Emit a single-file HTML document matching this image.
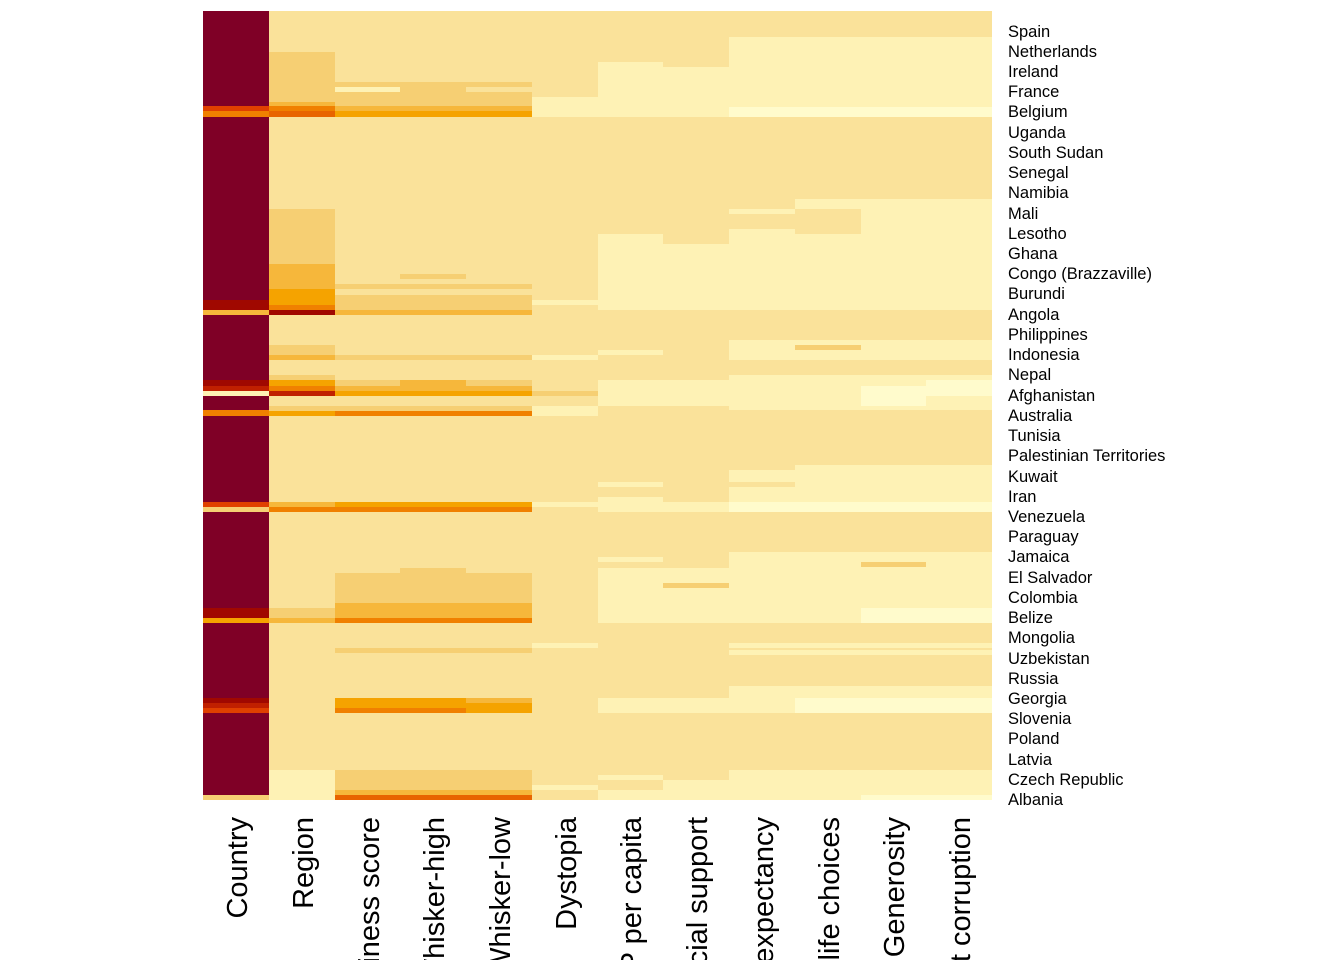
<!DOCTYPE html>
<html><head><meta charset="utf-8"><style>
html,body{margin:0;padding:0;background:#fff;overflow:hidden;width:1344px;height:960px;}
svg{display:block;font-family:"Liberation Sans",sans-serif;overflow:hidden;}
</style></head><body>
<svg width="1344" height="960" viewBox="0 0 1344 960" xmlns="http://www.w3.org/2000/svg">
<g shape-rendering="crispEdges">
<rect x="269" y="11" width="723" height="789" fill="#FAE29A"/>
<rect x="203" y="11" width="66" height="789" fill="#7F0026"/>
<rect x="203" y="106" width="66" height="5" fill="#E04000"/>
<rect x="203" y="111" width="66" height="6" fill="#F08000"/>
<rect x="203" y="300" width="66" height="10" fill="#A00800"/>
<rect x="203" y="310" width="66" height="5" fill="#F6B73B"/>
<rect x="203" y="380" width="66" height="6" fill="#A00800"/>
<rect x="203" y="386" width="66" height="5" fill="#C02000"/>
<rect x="203" y="391" width="66" height="5" fill="#FEF2B5"/>
<rect x="203" y="410" width="66" height="6" fill="#F08000"/>
<rect x="203" y="502" width="66" height="5" fill="#E04000"/>
<rect x="203" y="507" width="66" height="5" fill="#F6CF73"/>
<rect x="203" y="608" width="66" height="10" fill="#A00800"/>
<rect x="203" y="618" width="66" height="5" fill="#F5A300"/>
<rect x="203" y="698" width="66" height="5" fill="#A00800"/>
<rect x="203" y="703" width="66" height="5" fill="#C02000"/>
<rect x="203" y="708" width="66" height="5" fill="#E04000"/>
<rect x="203" y="795" width="66" height="5" fill="#F6CF73"/>

<rect x="269" y="52" width="66" height="50" fill="#F6CF73"/>
<rect x="269" y="102" width="66" height="4" fill="#F6B73B"/>
<rect x="269" y="106" width="66" height="5" fill="#F08000"/>
<rect x="269" y="111" width="66" height="6" fill="#E86400"/>
<rect x="269" y="209" width="66" height="55" fill="#F6CF73"/>
<rect x="269" y="264" width="66" height="25" fill="#F6B73B"/>
<rect x="269" y="289" width="66" height="16" fill="#F5A300"/>
<rect x="269" y="305" width="66" height="5" fill="#F08000"/>
<rect x="269" y="310" width="66" height="5" fill="#A00800"/>
<rect x="269" y="345" width="66" height="10" fill="#F6CF73"/>
<rect x="269" y="355" width="66" height="5" fill="#F6B73B"/>
<rect x="269" y="375" width="66" height="5" fill="#F6CF73"/>
<rect x="269" y="380" width="66" height="6" fill="#F5A300"/>
<rect x="269" y="386" width="66" height="5" fill="#F08000"/>
<rect x="269" y="391" width="66" height="5" fill="#C02000"/>
<rect x="269" y="406" width="66" height="5" fill="#F6CF73"/>
<rect x="269" y="411" width="66" height="5" fill="#F5A300"/>
<rect x="269" y="502" width="66" height="5" fill="#F6B73B"/>
<rect x="269" y="507" width="66" height="5" fill="#F08000"/>
<rect x="269" y="608" width="66" height="10" fill="#F6CF73"/>
<rect x="269" y="618" width="66" height="5" fill="#F6B73B"/>
<rect x="269" y="770" width="66" height="30" fill="#FEF2B5"/>

<rect x="335" y="82" width="197" height="5" fill="#F6CF73"/>
<rect x="335" y="92" width="197" height="14" fill="#F6CF73"/>
<rect x="400" y="87" width="66" height="5" fill="#F6CF73"/>
<rect x="335" y="87" width="65" height="5" fill="#FEF2B5"/>
<rect x="335" y="106" width="197" height="5" fill="#F6B73B"/>
<rect x="335" y="111" width="197" height="6" fill="#F5A300"/>
<rect x="400" y="274" width="66" height="5" fill="#F6CF73"/>
<rect x="335" y="284" width="197" height="5" fill="#F6CF73"/>
<rect x="335" y="295" width="197" height="15" fill="#F6CF73"/>
<rect x="335" y="310" width="197" height="5" fill="#F6B73B"/>
<rect x="335" y="355" width="197" height="5" fill="#F6CF73"/>
<rect x="335" y="380" width="197" height="6" fill="#F6CF73"/>
<rect x="400" y="380" width="66" height="6" fill="#F6B73B"/>
<rect x="335" y="386" width="197" height="5" fill="#F6B73B"/>
<rect x="335" y="391" width="197" height="5" fill="#F5A300"/>
<rect x="335" y="406" width="197" height="5" fill="#F6CF73"/>
<rect x="335" y="411" width="197" height="5" fill="#F08000"/>
<rect x="335" y="502" width="197" height="5" fill="#F5A300"/>
<rect x="335" y="507" width="197" height="5" fill="#F08000"/>
<rect x="400" y="568" width="66" height="5" fill="#F6CF73"/>
<rect x="335" y="573" width="197" height="30" fill="#F6CF73"/>
<rect x="335" y="603" width="197" height="15" fill="#F6B73B"/>
<rect x="335" y="618" width="197" height="5" fill="#F08000"/>
<rect x="335" y="648" width="197" height="5" fill="#F6CF73"/>
<rect x="335" y="698" width="131" height="10" fill="#F5A300"/>
<rect x="466" y="698" width="66" height="5" fill="#F6B73B"/>
<rect x="466" y="703" width="66" height="10" fill="#F5A300"/>
<rect x="335" y="708" width="131" height="5" fill="#F08000"/>
<rect x="335" y="770" width="197" height="20" fill="#F6CF73"/>
<rect x="335" y="790" width="197" height="5" fill="#F6B73B"/>
<rect x="335" y="795" width="197" height="5" fill="#E86400"/>

<rect x="532" y="97" width="66" height="20" fill="#FEF2B5"/>
<rect x="532" y="300" width="66" height="5" fill="#FEF2B5"/>
<rect x="532" y="355" width="66" height="5" fill="#FEF2B5"/>
<rect x="532" y="391" width="66" height="5" fill="#F6CF73"/>
<rect x="532" y="406" width="66" height="10" fill="#FEF2B5"/>
<rect x="532" y="502" width="66" height="5" fill="#FEF2B5"/>
<rect x="532" y="643" width="66" height="5" fill="#FEF2B5"/>
<rect x="532" y="785" width="66" height="5" fill="#FEF2B5"/>

<rect x="598" y="62" width="65" height="55" fill="#FEF2B5"/>
<rect x="598" y="234" width="65" height="76" fill="#FEF2B5"/>
<rect x="598" y="350" width="65" height="5" fill="#FEF2B5"/>
<rect x="598" y="380" width="65" height="26" fill="#FEF2B5"/>
<rect x="598" y="482" width="65" height="5" fill="#FEF2B5"/>
<rect x="598" y="497" width="65" height="15" fill="#FEF2B5"/>
<rect x="598" y="557" width="65" height="5" fill="#FEF2B5"/>
<rect x="598" y="568" width="65" height="55" fill="#FEF2B5"/>
<rect x="598" y="698" width="65" height="15" fill="#FEF2B5"/>
<rect x="598" y="775" width="65" height="5" fill="#FEF2B5"/>
<rect x="598" y="790" width="65" height="10" fill="#FEF2B5"/>

<rect x="663" y="67" width="66" height="50" fill="#FEF2B5"/>
<rect x="663" y="244" width="66" height="66" fill="#FEF2B5"/>
<rect x="663" y="380" width="66" height="26" fill="#FEF2B5"/>
<rect x="663" y="502" width="66" height="10" fill="#FEF2B5"/>
<rect x="663" y="568" width="66" height="55" fill="#FEF2B5"/>
<rect x="663" y="583" width="66" height="5" fill="#F6CF73"/>
<rect x="663" y="698" width="66" height="15" fill="#FEF2B5"/>
<rect x="663" y="780" width="66" height="20" fill="#FEF2B5"/>

<rect x="729" y="37" width="263" height="70" fill="#FEF2B5"/>
<rect x="729" y="107" width="263" height="10" fill="#FFFBCC"/>
<rect x="729" y="209" width="66" height="5" fill="#FEF2B5"/>
<rect x="729" y="229" width="66" height="81" fill="#FEF2B5"/>
<rect x="795" y="199" width="197" height="111" fill="#FEF2B5"/>
<rect x="795" y="209" width="66" height="25" fill="#FAE29A"/>
<rect x="729" y="340" width="263" height="20" fill="#FEF2B5"/>
<rect x="795" y="345" width="66" height="5" fill="#F6CF73"/>
<rect x="729" y="375" width="263" height="35" fill="#FEF2B5"/>
<rect x="861" y="386" width="65" height="20" fill="#FFFBCC"/>
<rect x="926" y="380" width="66" height="16" fill="#FFFBCC"/>
<rect x="795" y="465" width="197" height="47" fill="#FEF2B5"/>
<rect x="729" y="470" width="66" height="42" fill="#FEF2B5"/>
<rect x="729" y="482" width="66" height="5" fill="#FAE29A"/>
<rect x="729" y="502" width="263" height="10" fill="#FFFBCC"/>
<rect x="729" y="552" width="263" height="71" fill="#FEF2B5"/>
<rect x="861" y="562" width="65" height="5" fill="#F6CF73"/>
<rect x="861" y="608" width="131" height="15" fill="#FFFBCC"/>
<rect x="729" y="643" width="263" height="5" fill="#FEF2B5"/>
<rect x="729" y="650" width="263" height="5" fill="#FEF2B5"/>
<rect x="729" y="686" width="263" height="27" fill="#FEF2B5"/>
<rect x="795" y="698" width="197" height="15" fill="#FFFBCC"/>
<rect x="729" y="770" width="263" height="30" fill="#FEF2B5"/>
<rect x="861" y="795" width="131" height="5" fill="#FFFBCC"/>
</g>
<g font-size="16.5" fill="#000">
<text x="1008" y="37">Spain</text><text x="1008" y="57">Netherlands</text><text x="1008" y="77">Ireland</text><text x="1008" y="97">France</text><text x="1008" y="117">Belgium</text><text x="1008" y="138">Uganda</text><text x="1008" y="158">South Sudan</text><text x="1008" y="178">Senegal</text><text x="1008" y="198">Namibia</text><text x="1008" y="219">Mali</text><text x="1008" y="239">Lesotho</text><text x="1008" y="259">Ghana</text><text x="1008" y="279">Congo (Brazzaville)</text><text x="1008" y="299">Burundi</text><text x="1008" y="320">Angola</text><text x="1008" y="340">Philippines</text><text x="1008" y="360">Indonesia</text><text x="1008" y="380">Nepal</text><text x="1008" y="401">Afghanistan</text><text x="1008" y="421">Australia</text><text x="1008" y="441">Tunisia</text><text x="1008" y="461">Palestinian Territories</text><text x="1008" y="482">Kuwait</text><text x="1008" y="502">Iran</text><text x="1008" y="522">Venezuela</text><text x="1008" y="542">Paraguay</text><text x="1008" y="562">Jamaica</text><text x="1008" y="583">El Salvador</text><text x="1008" y="603">Colombia</text><text x="1008" y="623">Belize</text><text x="1008" y="643">Mongolia</text><text x="1008" y="664">Uzbekistan</text><text x="1008" y="684">Russia</text><text x="1008" y="704">Georgia</text><text x="1008" y="724">Slovenia</text><text x="1008" y="744">Poland</text><text x="1008" y="765">Latvia</text><text x="1008" y="785">Czech Republic</text><text x="1008" y="805">Albania</text>
</g>
<g font-size="29" fill="#000" text-anchor="end">
<text transform="translate(247,817) rotate(-90)">Country</text>
<text transform="translate(313,817) rotate(-90)">Region</text>
<text transform="translate(379,817) rotate(-90)">Happiness score</text>
<text transform="translate(444,817) rotate(-90)">Whisker-high</text>
<text transform="translate(510,817) rotate(-90)">Whisker-low</text>
<text transform="translate(576,817) rotate(-90)">Dystopia</text>
<text transform="translate(641,817) rotate(-90)">Economy GDP per capita</text>
<text transform="translate(707,817) rotate(-90)">Family social support</text>
<text transform="translate(773,817) rotate(-90)">Health life expectancy</text>
<text transform="translate(839,817) rotate(-90)">Freedom to make life choices</text>
<text transform="translate(904,817) rotate(-90)">Generosity</text>
<text transform="translate(970,817) rotate(-90)">Trust government corruption</text>
</g>
</svg>
</body></html>
